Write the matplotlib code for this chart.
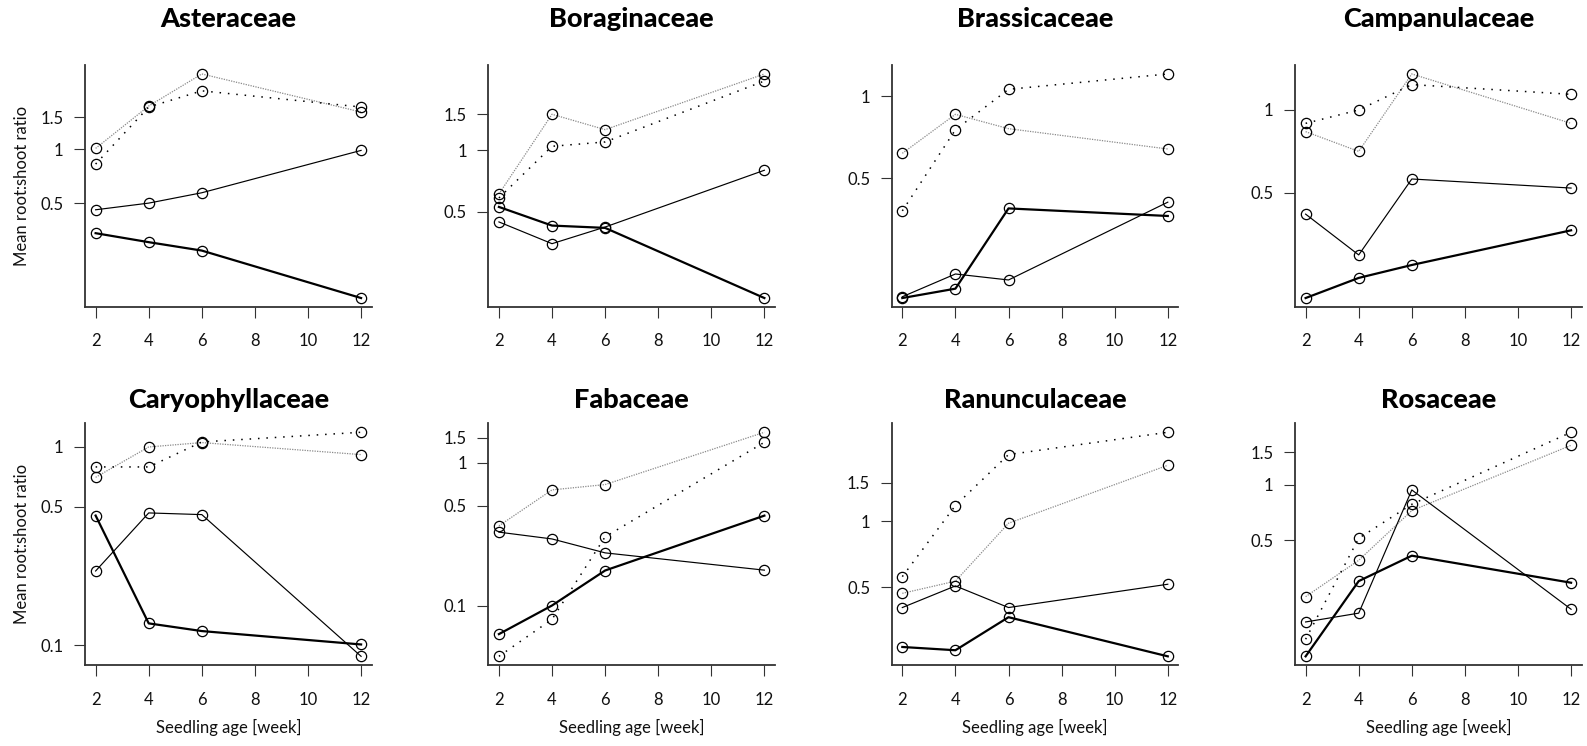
import numpy as np
import matplotlib
matplotlib.use('Agg')
import matplotlib.pyplot as plt
from matplotlib.ticker import NullLocator

plt.rcParams['font.family'] = ['Lato', 'DejaVu Sans']

# 数据：每科 4 条曲线，周龄 2/4/6/12
weeks = [2, 4, 6, 12]
families = ['Asteraceae', 'Boraginaceae', 'Brassicaceae', 'Campanulaceae',
            'Caryophyllaceae', 'Fabaceae', 'Ranunculaceae', 'Rosaceae']

# 粗实线
series_thick = [
    [0.340, 0.303, 0.272, 0.148],
    [0.529, 0.429, 0.418, 0.190],
    [0.182, 0.197, 0.388, 0.364],
    [0.207, 0.245, 0.273, 0.365],
    [0.451, 0.129, 0.118, 0.101],
    [0.063, 0.100, 0.176, 0.427],
    [0.267, 0.258, 0.365, 0.242],
    [0.118, 0.301, 0.413, 0.295],
]
# 细实线
series_thin = [
    [0.459, 0.500, 0.571, 0.983],
    [0.447, 0.350, 0.422, 0.799],
    [0.184, 0.223, 0.212, 0.409],
    [0.418, 0.297, 0.561, 0.520],
    [0.237, 0.465, 0.456, 0.088],
    [0.327, 0.293, 0.234, 0.177],
    [0.404, 0.507, 0.404, 0.516],
    [0.181, 0.202, 0.936, 0.212],
]
# 黑色点线
series_dot = [
    [0.825, 1.715, 2.110, 1.715],
    [0.585, 1.046, 1.098, 2.179],
    [0.380, 0.754, 1.061, 1.208],
    [0.894, 1.000, 1.237, 1.140],
    [0.793, 0.793, 1.060, 1.186],
    [0.044, 0.080, 0.303, 1.396],
    [0.559, 1.179, 2.014, 2.546],
    [0.146, 0.513, 0.783, 1.919],
]
# 灰色细线
series_grey = [
    [1.009, 1.737, 2.620, 1.608],
    [0.612, 1.499, 1.261, 2.358],
    [0.618, 0.859, 0.761, 0.641],
    [0.834, 0.707, 1.352, 0.894],
    [0.703, 1.000, 1.052, 0.915],
    [0.362, 0.647, 0.705, 1.641],
    [0.469, 0.533, 0.979, 1.800],
    [0.248, 0.390, 0.724, 1.632],
]
yticks = [0.1, 0.5, 1, 1.5]
ytick_labels = ['0.1', '0.5', '1', '1.5']
xticks = [2, 4, 6, 8, 10, 12]

W, H = 1587, 746
fig = plt.figure(figsize=(W / 100, H / 100), dpi=100)

col_left = [85, 488.3, 891.7, 1295]
ax_w = 286.7
row_top = [65, 423.3]
ax_h = 242
title_base = [27, 407.5]

axis_col = '#333333'
mk = dict(marker='o', mfc='none', mec='black', ms=7.4, mew=0.9)

for k, fam in enumerate(families):
    r, c = divmod(k, 4)
    ax = fig.add_axes([col_left[c] / W, 1 - (row_top[r] + ax_h) / H, ax_w / W, ax_h / H])
    ax.set_yscale('log')

    ax.plot(weeks, series_grey[k], color='#8a8a8a', lw=0.9, ls=(0, (1, 1)), **mk)
    ax.plot(weeks, series_dot[k], color='black', lw=1.1, ls=(0, (1, 4.5)), **mk)
    ax.plot(weeks, series_thin[k], color='black', lw=0.85, **mk)
    ax.plot(weeks, series_thick[k], color='black', lw=1.6, **mk)

    ax.margins(x=0.04, y=0.04)
    ax.autoscale_view()
    lo, hi = ax.get_ylim()
    tv = [t for t in yticks if lo <= t <= hi]
    tl = [ytick_labels[yticks.index(t)] for t in tv]
    ax.set_yticks(tv)
    ax.set_yticklabels(tl)
    ax.yaxis.set_minor_locator(NullLocator())
    ax.set_ylim(lo, hi)
    ax.set_xticks(xticks)
    ax.set_xlim(1.6, 12.4)

    for s in ['top', 'right']:
        ax.spines[s].set_visible(False)
    for s in ['left', 'bottom']:
        ax.spines[s].set_color(axis_col)
        ax.spines[s].set_linewidth(1.3)
    ax.tick_params(axis='both', direction='out', length=8, width=0.8, color=axis_col,
                   labelsize=12, labelcolor='#111111')
    ax.tick_params(axis='x', pad=11)
    ax.tick_params(axis='y', pad=7.5)

    xc = (col_left[c] + ax_w / 2) / W
    fig.text(xc, 1 - title_base[r] / H, fam, ha='center', va='baseline',
             fontsize=19.5, fontweight='black')
    if r == 1:
        fig.text(xc, 1 - 727 / H, 'Seedling age [week]', ha='center', va='center',
                 fontsize=12, color='#111111')
    if c == 0:
        fig.text(21.7 / W, 1 - (row_top[r] + ax_h / 2) / H, 'Mean root:shoot ratio',
                 rotation=90, ha='center', va='center', fontsize=12, color='#111111')

fig.savefig('out.png', dpi=100)
